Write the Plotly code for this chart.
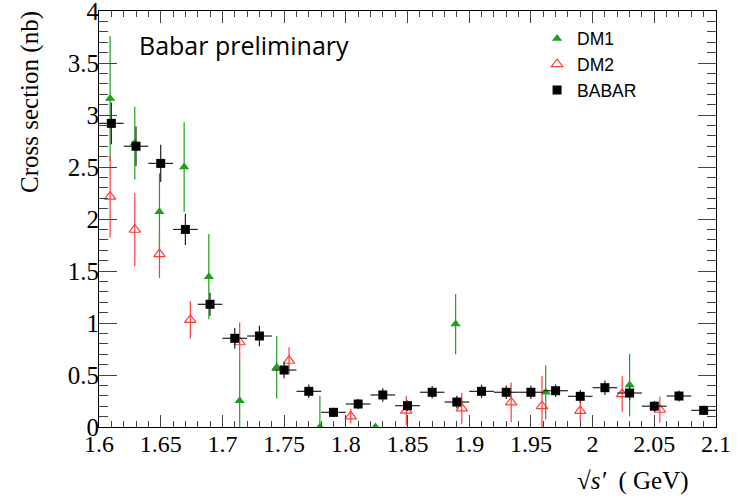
import plotly.graph_objects as go

# BABAR measurement: bin centres (GeV), cross section (nb), stat. errors
babar_x = [1.61, 1.63, 1.65, 1.67, 1.69, 1.71, 1.73, 1.75, 1.77, 1.79,
           1.81, 1.83, 1.85, 1.87, 1.89, 1.91, 1.93, 1.95, 1.97, 1.99,
           2.01, 2.03, 2.05, 2.07, 2.09]
babar_y = [2.92, 2.70, 2.535, 1.90, 1.18, 0.853, 0.875, 0.548, 0.343, 0.141,
           0.221, 0.308, 0.205, 0.334, 0.24, 0.343, 0.334, 0.334, 0.349, 0.295,
           0.378, 0.327, 0.20, 0.298, 0.16]
babar_err = [0.20, 0.19, 0.18, 0.15, 0.11, 0.10, 0.10, 0.08, 0.065, 0.045,
             0.05, 0.064, 0.05, 0.06, 0.06, 0.064, 0.064, 0.064, 0.06, 0.06,
             0.07, 0.065, 0.05, 0.053, 0.045]
babar_half_bin = 0.01

# DM1
dm1_x = [1.609, 1.629, 1.649, 1.669, 1.689, 1.714, 1.744, 1.779, 1.824,
         1.889, 1.962, 2.030]
dm1_y = [3.16, 2.73, 2.07, 2.50, 1.445, 0.253, 0.574, 0.0, 0.0,
         0.99, 0.334, 0.404]
dm1_err = [0.60, 0.35, 0.37, 0.43, 0.41, 0.38, 0.30, 0.30, 0.0,
           0.29, 0.26, 0.30]

# DM2
dm2_x = [1.609, 1.629, 1.649, 1.674, 1.714, 1.754, 1.804, 1.849, 1.894,
         1.934, 1.959, 1.990, 2.024, 2.0545]
dm2_y = [2.215, 1.897, 1.663, 1.03, 0.815, 0.637, 0.103, 0.157, 0.18,
         0.237, 0.20, 0.155, 0.317, 0.166]
dm2_err = [0.39, 0.35, 0.23, 0.18, 0.19, 0.13, 0.07, 0.14, 0.15,
           0.19, 0.29, 0.10, 0.17, 0.125]

# axis tick values
y_ticks = [0, 0.5, 1, 1.5, 2, 2.5, 3, 3.5, 4]
y_tick_text = ["0", "0.5", "1", "1.5", "2", "2.5", "3", "3.5", "4"]

GREEN = "#1f9f1f"
RED = "#ff3c3c"
SERIF = "Liberation Serif, Times New Roman, serif"

fig = go.Figure()

fig.add_trace(go.Scatter(
    x=dm1_x, y=dm1_y, mode="markers", name="DM1",
    marker=dict(symbol="triangle-up", size=9, color=GREEN),
    error_y=dict(type="data", array=dm1_err, color=GREEN, thickness=1.2, width=0),
))
fig.add_trace(go.Scatter(
    x=dm2_x, y=dm2_y, mode="markers", name="DM2",
    marker=dict(symbol="triangle-up-open", size=10, color=RED, line=dict(width=1.2)),
    error_y=dict(type="data", array=dm2_err, color=RED, thickness=1.2, width=0),
))
fig.add_trace(go.Scatter(
    x=babar_x, y=babar_y, mode="markers", name="BABAR",
    marker=dict(symbol="square", size=9, color="black"),
    error_y=dict(type="data", array=babar_err, color="#222", thickness=1.2, width=0),
    error_x=dict(type="constant", value=babar_half_bin, color="#222", thickness=1.2, width=0),
))

axis_common = dict(
    showline=True, linecolor="black", linewidth=1, mirror="ticks",
    ticks="inside", tickcolor="#444", tickwidth=1,
    showgrid=False, zeroline=False, ticklabeloverflow="allow", automargin=False,
)

fig.update_xaxes(
    range=[1.6, 2.1], dtick=0.05, tick0=1.6, ticklen=12,
    tickfont=dict(family=SERIF, size=24, color="black"),
    ticklabelstandoff=-5,
    minor=dict(dtick=0.01, ticklen=6, ticks="inside", tickcolor="#444", showgrid=False),
    **axis_common,
)
fig.update_yaxes(
    range=[0, 4.0005], tickmode="array", tickvals=y_ticks, ticktext=y_tick_text,
    ticklen=18,
    tickfont=dict(family=SERIF, size=25, color="black"),
    ticklabelstandoff=-6,
    minor=dict(dtick=0.1, tick0=0, ticklen=9, ticks="inside", tickcolor="#444", showgrid=False),
    **axis_common,
)

fig.update_layout(
    width=738, height=497,
    margin=dict(l=99, r=22, t=11, b=70, autoexpand=False),
    paper_bgcolor="white", plot_bgcolor="white",
    legend=dict(
        x=0.71, y=0.977, xanchor="left", yanchor="top",
        bgcolor="rgba(0,0,0,0)", borderwidth=0,
        font=dict(family="Liberation Sans, Arial, sans-serif", size=17.5, color="black"),
    ),
    annotations=[
        dict(text="Cross section (nb)", xref="paper", yref="paper",
             x=-0.113, y=0.782, xanchor="center", yanchor="middle",
             textangle=-90, showarrow=False,
             font=dict(family=SERIF, size=25, color="black")),
        dict(text="√<i>s′</i>  ( GeV)", xref="paper", yref="paper",
             x=0.96, y=-0.13, xanchor="right", yanchor="middle",
             showarrow=False, font=dict(family=SERIF, size=25, color="black")),
        dict(text="Babar preliminary", xref="paper", yref="paper",
             x=0.062, y=0.918, xanchor="left", yanchor="middle",
             showarrow=False, font=dict(family="Open Sans, sans-serif", size=25, color="black")),
    ],
)

fig.write_html("out.html")
